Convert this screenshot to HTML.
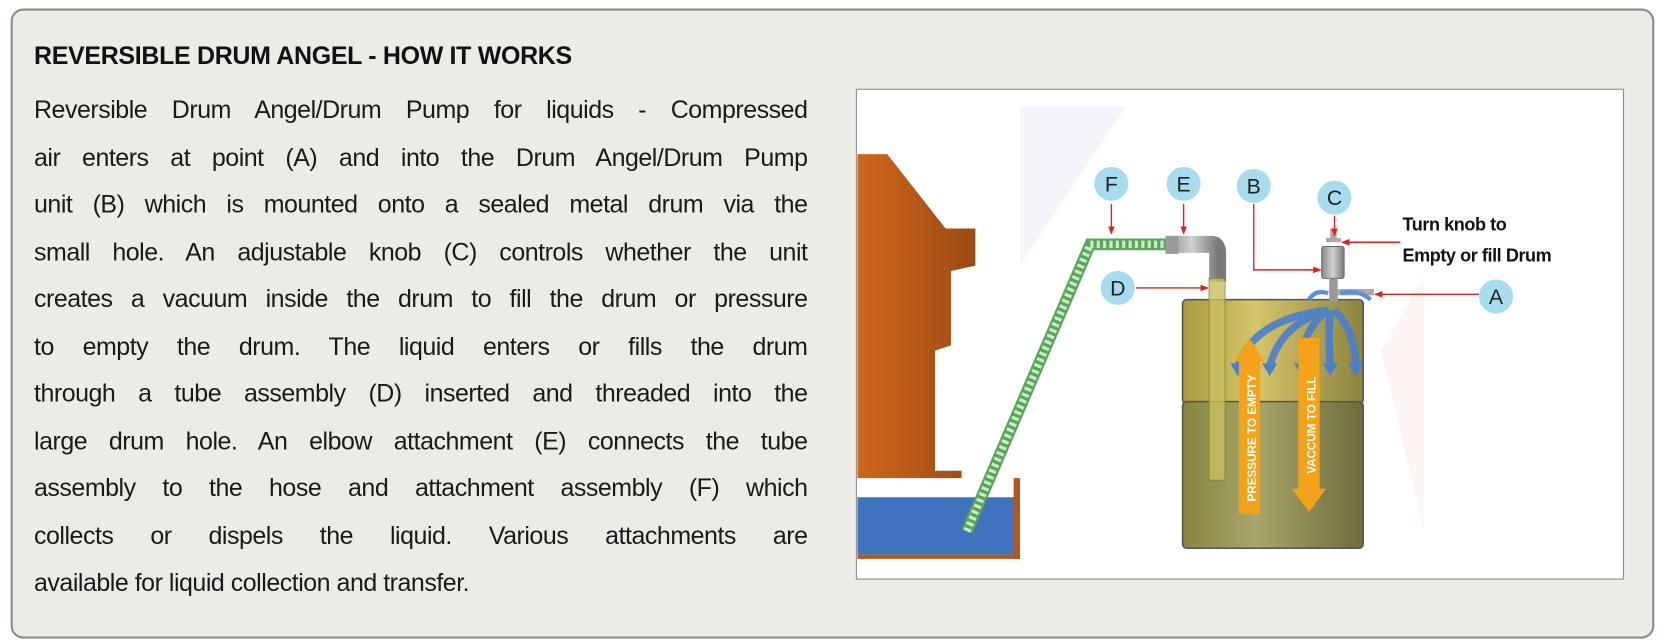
<!DOCTYPE html>
<html><head><meta charset="utf-8"><style>
html,body{margin:0;padding:0;background:#fff;width:1666px;height:644px;overflow:hidden}
#w{position:absolute;left:0;top:0;width:1568px;height:606px;transform:scale(1.0625);transform-origin:0 0}
.box{position:absolute;left:10px;top:8px;width:1543px;height:589px;border:2px solid #8c8c8c;border-radius:12px;background:#ecebe6}
.t{position:absolute;left:32px;top:39px;font:bold 23.5px "Liberation Sans",sans-serif;color:#111;letter-spacing:-0.3px;white-space:nowrap}
.p{position:absolute;left:32px;top:81px;width:728px;font:23.5px "Liberation Sans",sans-serif;color:#1a1a1a;letter-spacing:-0.45px}
.p div{height:44.5px;line-height:44px;text-align:justify;text-align-last:justify;white-space:nowrap}
.p div.l{text-align-last:left}
svg{position:absolute;left:0;top:0}
</style></head><body><div id="w">
<div class="box"></div>
<div class="t">REVERSIBLE DRUM ANGEL - HOW IT WORKS</div>
<div class="p">
<div>Reversible Drum Angel/Drum Pump for liquids - Compressed</div>
<div>air enters at point (A) and into the Drum Angel/Drum Pump</div>
<div>unit (B) which is mounted onto a sealed metal drum via the</div>
<div>small hole. An adjustable knob (C) controls whether the unit</div>
<div>creates a vacuum inside the drum to fill the drum or pressure</div>
<div>to empty the drum. The liquid enters or fills the drum</div>
<div>through a tube assembly (D) inserted and threaded into the</div>
<div>large drum hole. An elbow attachment (E) connects the tube</div>
<div>assembly to the hose and attachment assembly (F) which</div>
<div>collects or dispels the liquid. Various attachments are</div>
<div class="l">available for liquid collection and transfer.</div>
</div>
<svg width="1568" height="606" viewBox="0 0 1568 606">
<defs>
<linearGradient id="tw" x1="0" x2="1"><stop offset="0" stop-color="#d0661c"/><stop offset="1" stop-color="#9c4a14"/></linearGradient>
<linearGradient id="dr" x1="0" x2="1"><stop offset="0" stop-color="#a89a40"/><stop offset=".4" stop-color="#d6c56a"/><stop offset="1" stop-color="#8c8440"/></linearGradient>
<linearGradient id="dr2" x1="0" x2="1"><stop offset="0" stop-color="#86843e"/><stop offset=".4" stop-color="#a8a66a"/><stop offset="1" stop-color="#6e6c3c"/></linearGradient>
<linearGradient id="gy" x1="0" x2="1"><stop offset="0" stop-color="#8a8a8a"/><stop offset=".5" stop-color="#d0d0d0"/><stop offset="1" stop-color="#7a7a7a"/></linearGradient>
<marker id="ar" viewBox="0 0 10 10" refX="9" refY="5" markerWidth="6" markerHeight="6" orient="auto"><path d="M0,1 L10,5 L0,9z" fill="#e02020"/></marker>
</defs>
<rect x="806" y="84" width="722" height="461" fill="#fff" stroke="#8a8a8a" stroke-width="1"/>
<polygon points="960,100 1060,100 960,250" fill="#f4f5f9"/>
<polygon points="1300,330 1340,260 1340,500" fill="#fdf4f4"/>
<path d="M807,145 L835,145 L890,215 L918,215 L918,250 L895,255 L895,325 L880,330 L880,443 L905,443 L905,450 L807,450Z" fill="url(#tw)"/>
<rect x="807" y="468" width="148" height="54" fill="#3f73bf"/>
<rect x="954" y="450" width="6" height="76" fill="#b5561a"/>
<rect x="807" y="522" width="153" height="4" fill="#b5561a"/>
<polyline points="910,500 1026,230 1098,230" fill="none" stroke="#5aa55a" stroke-width="11" stroke-linejoin="miter"/>
<polyline points="910,500 1026,230 1098,230" fill="none" stroke="#c8ecc8" stroke-width="7" stroke-dasharray="3,3"/>
<path d="M1097,230 L1140,230 Q1146,230 1146,238 L1146,265" fill="none" stroke="url(#gy)" stroke-width="16"/>
<rect x="1097" y="222" width="12" height="17" fill="#999"/>
<rect x="1113" y="282" width="170" height="98" rx="4" fill="url(#dr)" stroke="#555" stroke-width="1.5"/>
<rect x="1113" y="378" width="170" height="138" rx="4" fill="url(#dr2)" stroke="#555" stroke-width="1.5"/>
<rect x="1138" y="262" width="15" height="190" fill="#c9c060" opacity=".8" stroke="#8a8440" stroke-width="1"/>
<rect x="1252" y="215" width="6" height="12" fill="#aaa"/>
<rect x="1248" y="224" width="14" height="4" fill="#aaa"/>
<rect x="1244" y="232" width="21" height="30" rx="2" fill="url(#gy)" stroke="#666"/>
<rect x="1251" y="262" width="8" height="22" fill="#999"/>
<rect x="1259" y="272" width="34" height="6" fill="#aaa"/>
<path d="M1232,282 Q1238,272 1250,276 M1262,276 Q1278,272 1290,282" stroke="#5b8fd8" stroke-width="4" fill="none"/>
<g stroke="#4a7fd0" stroke-width="7" fill="none" opacity=".9">
<path d="M1250,292 Q1180,300 1165,345"/><path d="M1250,292 Q1205,305 1195,345"/><path d="M1250,292 Q1225,310 1225,345"/><path d="M1252,292 Q1250,315 1252,345"/><path d="M1256,292 Q1275,310 1276,345"/>
</g>
<g fill="#4a7fd0"><polygon points="1158,342 1172,342 1165,354"/><polygon points="1188,342 1202,342 1195,354"/><polygon points="1218,342 1232,342 1225,354"/><polygon points="1245,342 1259,342 1252,354"/><polygon points="1269,342 1283,342 1276,354"/></g>
<rect x="1166" y="338" width="20" height="146" fill="#f5a21b"/>
<polygon points="1162,340 1190,340 1176,318" fill="#f5a21b"/>
<rect x="1222" y="318" width="20" height="146" fill="#f5a21b"/>
<polygon points="1216,460 1248,460 1232,482" fill="#f5a21b"/>
<text transform="translate(1182,472) rotate(-90)" font-family="Liberation Sans,sans-serif" font-weight="bold" font-size="11" fill="#fff">PRESSURE TO EMPTY</text>
<text transform="translate(1238,446) rotate(-90)" font-family="Liberation Sans,sans-serif" font-weight="bold" font-size="11" fill="#fff">VACCUM TO FILL</text>
<g stroke="#e02020" stroke-width="1.3" fill="none" marker-end="url(#ar)">
<line x1="1046" y1="192" x2="1046" y2="220"/>
<line x1="1114" y1="192" x2="1114" y2="220"/>
<polyline points="1180,192 1180,254 1243,254"/>
<line x1="1256" y1="203" x2="1256" y2="222"/>
<line x1="1069" y1="271" x2="1137" y2="271"/>
<line x1="1392" y1="277" x2="1294" y2="277"/>
<line x1="1318" y1="228" x2="1263" y2="228"/>
</g>
<g fill="#a7dcef">
<circle cx="1046" cy="173" r="16"/><circle cx="1114" cy="173" r="16"/><circle cx="1180" cy="175" r="16"/><circle cx="1256" cy="186" r="16"/><circle cx="1052" cy="271" r="16"/><circle cx="1408" cy="279" r="16"/>
</g>
<g font-family="Liberation Sans,sans-serif" font-size="20" fill="#222" text-anchor="middle">
<text x="1046" y="180">F</text><text x="1114" y="180">E</text><text x="1180" y="182">B</text><text x="1256" y="193">C</text><text x="1052" y="278">D</text><text x="1408" y="286">A</text>
</g>
<text x="1320" y="217" font-family="Liberation Sans,sans-serif" font-weight="bold" font-size="17" fill="#111" letter-spacing="-0.4">Turn knob to</text>
<text x="1320" y="246" font-family="Liberation Sans,sans-serif" font-weight="bold" font-size="17" fill="#111" letter-spacing="-0.4">Empty or fill Drum</text>
</svg>
</div></body></html>
